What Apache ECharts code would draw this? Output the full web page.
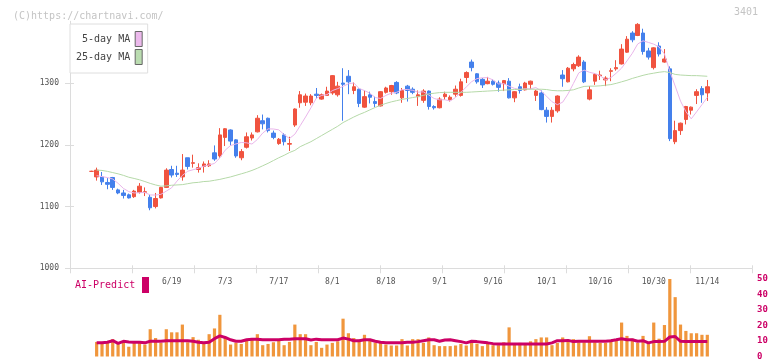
<!DOCTYPE html>
<html><head><meta charset="utf-8">
<script src="https://cdn.jsdelivr.net/npm/echarts@6/dist/echarts.min.js"></script>
<style>html,body{margin:0;padding:0;background:#fff}#c{width:772px;height:361px}</style>
</head><body><div id="c"></div>
<script>
// trading days (2025) shown on the chart
const dates = ['5/29','5/30',
 '6/2','6/3','6/4','6/5','6/6','6/9','6/10','6/11','6/12','6/13','6/16','6/17','6/18','6/19','6/20','6/23','6/24','6/25','6/26','6/27','6/30',
 '7/1','7/2','7/3','7/4','7/7','7/8','7/9','7/10','7/11','7/14','7/15','7/16','7/17','7/18','7/22','7/23','7/24','7/25','7/28','7/29','7/30','7/31',
 '8/1','8/4','8/5','8/6','8/7','8/8','8/12','8/13','8/14','8/15','8/18','8/19','8/20','8/21','8/22','8/25','8/26','8/27','8/28','8/29',
 '9/1','9/2','9/3','9/4','9/5','9/8','9/9','9/10','9/11','9/12','9/16','9/17','9/18','9/19','9/22','9/24','9/25','9/26','9/29','9/30',
 '10/1','10/2','10/3','10/6','10/7','10/8','10/9','10/10','10/14','10/15','10/16','10/17','10/20','10/21','10/22','10/23','10/24','10/27','10/28','10/29','10/30','10/31',
 '11/4','11/5','11/6','11/7','11/10','11/11','11/12','11/13','11/14'];

const opens = [1157,1148,1148,1139,1147,1127,1122,1119,1116,1123,
 1123,1115,1100,1114,1131,1160,1154,1148,1179,1170,
 1160,1165,1166,1187,1182,1212,1224,1208,1179,1196,
 1211,1221,1239,1243,1219,1202,1216,1201,1232,1268,
 1269,1268,1282,1274,1280,1284,1281,1300,1311,1288,
 1290,1261,1281,1270,1263,1285,1286,1301,1276,1295,
 1290,1278,1272,1287,1262,1260,1278,1273,1282,1280,
 1309,1334,1315,1306,1299,1303,1300,1299,1303,1276,
 1294,1289,1298,1280,1284,1256,1246,1255,1313,1302,
 1323,1328,1334,1274,1303,1312,1305,1319,1323,1331,
 1350,1381,1377,1381,1352,1325,1360,1334,1323,1205,
 1223,1241,1256,1280,1291,1284];
const closes = [1157,1159,1140,1136,1131,1122,1118,1114,1125,1133,
 1124,1098,1113,1131,1159,1151,1152,1159,1165,1171,
 1163,1169,1169,1177,1216,1226,1206,1182,1189,1213,
 1216,1243,1234,1223,1212,1209,1205,1202,1258,1281,
 1279,1279,1280,1281,1287,1312,1295,1298,1302,1294,
 1267,1278,1277,1267,1286,1292,1296,1284,1288,1288,
 1285,1281,1287,1262,1260,1274,1282,1277,1290,1302,
 1317,1325,1302,1297,1303,1298,1293,1304,1276,1286,
 1288,1300,1303,1287,1257,1246,1256,1279,1307,1324,
 1330,1342,1302,1289,1314,1313,1308,1320,1325,1355,
 1371,1370,1395,1351,1342,1357,1347,1339,1210,1223,
 1235,1262,1261,1286,1281,1294];
const lows = [1156,1142,1135,1128,1127,1120,1113,1113,1114,1121,
 1117,1094,1097,1113,1130,1147,1148,1142,1160,1163,
 1155,1155,1164,1174,1179,1198,1199,1179,1175,1194,
 1207,1220,1225,1220,1209,1200,1199,1190,1229,1260,
 1263,1264,1275,1273,1279,1281,1278,1239,1282,1282,
 1261,1260,1267,1261,1262,1283,1281,1282,1268,1270,
 1282,1263,1268,1257,1257,1259,1273,1270,1278,1278,
 1300,1319,1299,1292,1298,1296,1286,1287,1275,1269,
 1283,1288,1290,1271,1256,1236,1236,1252,1294,1301,
 1319,1326,1300,1272,1297,1305,1295,1303,1320,1330,
 1349,1366,1376,1346,1338,1322,1343,1333,1206,1201,
 1216,1233,1249,1266,1268,1271];
const highs = [1158,1163,1156,1146,1148,1129,1127,1121,1127,1138,
 1131,1119,1122,1132,1162,1166,1166,1185,1179,1184,
 1170,1173,1175,1199,1227,1227,1225,1209,1193,1220,
 1220,1248,1249,1244,1223,1211,1219,1213,1259,1287,
 1283,1282,1292,1283,1294,1313,1302,1324,1321,1301,
 1291,1288,1286,1278,1287,1294,1297,1303,1292,1297,
 1293,1288,1290,1288,1264,1277,1286,1280,1296,1307,
 1319,1338,1316,1308,1310,1306,1304,1305,1308,1287,
 1299,1302,1304,1289,1288,1261,1261,1280,1321,1326,
 1333,1345,1337,1295,1316,1320,1311,1324,1337,1363,
 1376,1384,1397,1388,1357,1358,1366,1355,1327,1239,
 1236,1263,1262,1290,1295,1305];

const ma5 = [null,1150,1148.5,1147,1144.6,1137.6,1129.4,1124.2,1122.0,1122.4,
 1122.8,1118.8,1118.6,1119.8,1125.0,1130.4,1141.2,1150.4,1157.2,1159.6,
 1162.0,1165.4,1167.4,1169.8,1178.8,1191.4,1198.8,1201.4,1203.8,1203.2,
 1201.2,1208.6,1219.0,1225.8,1225.6,1224.2,1216.6,1210.2,1217.2,1231.0,
 1245.0,1259.8,1275.4,1280.0,1281.2,1287.8,1291.0,1294.6,1298.8,1300.2,
 1291.2,1287.8,1283.6,1276.6,1275.0,1280.0,1283.6,1285.0,1289.2,1289.6,
 1288.2,1285.2,1285.8,1280.6,1275.0,1272.8,1273.0,1271.0,1276.6,1285.0,
 1293.6,1302.2,1307.2,1308.6,1308.8,1305.0,1298.6,1299.0,1294.8,1291.4,
 1289.4,1290.8,1290.6,1292.8,1287.0,1278.6,1269.8,1265.0,1269.0,1282.4,
 1299.2,1316.4,1321.0,1317.4,1315.4,1312.0,1305.2,1308.8,1316.0,1324.2,
 1335.8,1348.2,1363.2,1368.4,1365.8,1363.0,1358.4,1347.2,1319.0,1295.2,
 1270.8,1253.8,1242.0,1253.4,1265.0,1276.8];
const ma25 = [null,1159,1158.5,1157,1155,1153,1150.5,1147.5,1145.5,1143.3,
 1140.5,1137.5,1135,1133,1133.5,1134.5,1135,1135.5,1137,1138.5,
 1139.2,1140.5,1141,1142.5,1144,1146,1148,1150.5,1153,1155.5,
 1158.5,1162,1166,1170,1174.5,1179,1183,1187.5,1191,1197,
 1201,1205,1210,1215,1220,1225,1230,1236,1240.5,1245,
 1249,1252.5,1256.5,1260.5,1264,1267,1269.5,1271.5,1273.5,1275,
 1276.5,1278,1280,1282.5,1283.5,1284.5,1285,1285,1285,1285,
 1285,1285.5,1286,1286.5,1287,1287.5,1288,1288.5,1289,1289.5,
 1290,1290,1290,1290,1290,1289.5,1288,1287.5,1287.5,1288,
 1289,1292,1294.5,1295,1295,1295.5,1296.5,1297.5,1299.5,1302,
 1304.5,1307.5,1310,1312.5,1314.5,1316,1317.5,1318.5,1317,1314,
 1313,1312.5,1312,1312,1311.5,1311];

const volumes = [null,9.4,8.3,9.2,11.2,8.3,9.2,6.3,9.2,9.2,
 7.7,17.6,11.9,8.8,17.6,15.6,15.6,20.6,9.2,12.5,
 10.8,8.1,14.4,18.1,26.9,12.5,7.7,8.8,8.1,11.2,
 11.2,14.4,7.3,8.1,9.2,10.8,7.3,9.4,20.6,14.4,
 14.4,7.3,9.4,5.6,7.7,8.8,9.8,24.4,15,11.9,
 10.8,14,10.8,8.8,8.8,7.7,7.1,7.1,11.2,7.1,
 11.2,11.2,8.8,12.3,7.3,6.7,6.7,6.7,7.1,8.1,
 7.1,9.2,8.3,6.7,8.1,7.3,7.3,9.2,18.8,8.1,
 8.8,8.1,9.8,11.2,12.3,12.3,7.3,8.8,12.3,10.2,
 11.2,9.2,9.2,13.1,9.2,8.8,8.8,10.8,10.8,21.9,
 13.3,11.5,8.8,13.3,8.1,21.9,11.5,20.3,50,38.3,
 20.6,16.5,15,15,14,14];
const aiPredict = [null,8.8,8.8,9.2,10.2,8.5,9.8,9.4,9.2,9.2,
 8.8,9.8,9.8,9.8,10.2,10.2,10.2,10.2,10.2,9.8,
 9.2,8.8,9.2,11.5,13.3,12.3,10.8,9.8,9.8,10.8,
 11.2,11.2,10.8,10.8,10.8,10.8,11.2,11.2,11.5,11.5,
 11.5,10.6,11.2,10.8,10.8,10.8,10.8,11.9,11.2,10.2,
 10.2,10.8,10.8,9.8,9.2,8.8,8.8,8.8,8.8,9.2,
 9.2,9.6,10.2,10.8,10.8,9.8,10.6,10.8,10.2,9.6,
 8.8,9.8,9.6,9.2,8.8,8.3,8.1,8.1,8.1,8.1,
 8.1,8.1,8.1,8.1,8.1,8.1,8.8,10.2,10.2,10.4,
 9.6,9.8,9.8,9.8,9.8,9.8,9.8,10.2,10.8,11.5,
 10.8,10.8,9.8,10.2,8.8,9.6,9.6,9.8,12.6,12.9,
 9.8,9.6,9.6,9.6,9.6,9.6];

const tickLabels = ['6/19','7/3','7/17','8/1','8/18','9/1','9/16','10/1','10/16','10/30','11/14'];
const priceTicks = [1000,1100,1200,1300];
const volTicks = [0,10,20,30,40,50];

const FONT = "'DejaVu Sans Mono', monospace";
const pairs = arr => arr.map((v, i) => [i, v]).filter(p => p[1] != null);
const candleData = closes.map((c, i) => [i, opens[i], c, lows[i], highs[i]]);
const labelIdx = tickLabels.map(d => dates.indexOf(d));

const chart = echarts.init(document.getElementById('c'), null, {renderer: 'canvas'});
const X_MIN = -3.976, X_MAX = 123.344;
const AX = '#dcdcdc';

chart.setOption({
  animation: false,
  title: {text: '(C)https://chartnavi.com/', left: 8, top: 6,
    textStyle: {fontFamily: FONT, fontSize: 10, fontWeight: 'normal', color: '#c4c4c4'}},
  legend: {
    orient: 'vertical', left: 70, top: 24, align: 'right',
    itemWidth: 7, itemHeight: 15, itemGap: 2, padding: [7, 5, 8, 6],
    backgroundColor: '#fff', borderColor: '#dedede', borderWidth: 1, borderRadius: 0,
    textStyle: {fontFamily: FONT, fontSize: 10, color: '#444'},
    data: [
      {name: '5-day MA', icon: 'rect', itemStyle: {color: '#ecb9ec', borderColor: '#666', borderWidth: 1}},
      {name: '25-day MA', icon: 'rect', itemStyle: {color: '#badcb0', borderColor: '#666', borderWidth: 1}}
    ]
  },
  grid: [
    {left: 70, top: 21.3, width: 682, height: 247},
    {left: 70, top: 279, width: 682, height: 80}
  ],
  xAxis: [
    {type: 'value', gridIndex: 0, min: X_MIN, max: X_MAX, position: 'bottom',
     axisLine: {onZero: false, lineStyle: {color: AX}}, axisTick: {show: false}, splitLine: {show: false},
     axisLabel: {customValues: labelIdx, formatter: v => dates[v], margin: 10,
       fontFamily: FONT, fontSize: 8, color: '#555'}},
    {type: 'value', gridIndex: 0, min: 0, max: 11, interval: 1, position: 'bottom',
     axisLine: {show: false, onZero: false}, axisLabel: {show: false}, splitLine: {show: false},
     axisTick: {show: true, length: 5, lineStyle: {color: AX}}},
    {type: 'value', gridIndex: 0, min: 0, max: 11, interval: 1, position: 'bottom',
     axisLine: {show: false, onZero: false}, axisLabel: {show: false}, splitLine: {show: false},
     axisTick: {show: true, inside: true, length: 3, lineStyle: {color: AX}}},
    {type: 'value', gridIndex: 1, min: X_MIN, max: X_MAX, show: false}
  ],
  yAxis: [
    {type: 'value', gridIndex: 0, min: 1000, max: 1400, position: 'left',
     axisLine: {show: true, onZero: false, lineStyle: {color: AX}}, splitLine: {show: false},
     axisTick: {show: true, customValues: priceTicks, length: 5, lineStyle: {color: AX}},
     axisLabel: {customValues: priceTicks, formatter: v => String(v), margin: 11, fontFamily: FONT, fontSize: 8, color: '#555'}},
    {type: 'value', gridIndex: 0, min: 1000, max: 1400, position: 'left',
     axisLine: {show: false, onZero: false}, splitLine: {show: false}, axisLabel: {show: false},
     axisTick: {show: true, inside: true, customValues: priceTicks, length: 4, lineStyle: {color: AX}}},
    {type: 'value', gridIndex: 1, min: 0, max: 50, interval: 10, position: 'right',
     axisLine: {show: false}, axisTick: {show: false}, splitLine: {show: false},
     axisLabel: {customValues: volTicks, formatter: v => String(v), margin: 5, fontFamily: FONT, fontSize: 9, fontWeight: 'bold', color: '#cc0066'}}
  ],
  series: [
    {type: 'candlestick', name: 'price', xAxisIndex: 0, yAxisIndex: 0, data: candleData, barWidth: 4,
     itemStyle: {color: '#f0533f', color0: '#4480ec', borderColor: '#f0533f', borderColor0: '#4480ec', borderWidth: 1}},
    {type: 'line', name: '5-day MA', xAxisIndex: 0, yAxisIndex: 0, data: pairs(ma5), showSymbol: false,
     lineStyle: {color: '#e9b5ea', width: 1}, itemStyle: {color: '#ecb9ec'}},
    {type: 'line', name: '25-day MA', xAxisIndex: 0, yAxisIndex: 0, data: pairs(ma25), showSymbol: false,
     lineStyle: {color: '#b5d9a8', width: 1}, itemStyle: {color: '#badcb0'}},
    {type: 'bar', name: 'volume', xAxisIndex: 3, yAxisIndex: 2, data: pairs(volumes), barWidth: 3.2,
     itemStyle: {color: '#f0963c'}},
    {type: 'line', name: 'AI-Predict', xAxisIndex: 3, yAxisIndex: 2, data: pairs(aiPredict), showSymbol: false,
     lineStyle: {color: '#cc0066', width: 3}}
  ],
  graphic: [
    {type: 'text', right: 14, top: 7, style: {text: '3401', fill: '#c4c4c4', font: '10px ' + FONT}},
    {type: 'text', left: 75, top: 280, style: {text: 'AI-Predict', fill: '#cc0066', font: '10px ' + FONT}},
    {type: 'rect', shape: {x: 142, y: 277, width: 7, height: 16}, style: {fill: '#cc0066'}}
  ]
});
</script>
</body></html>
